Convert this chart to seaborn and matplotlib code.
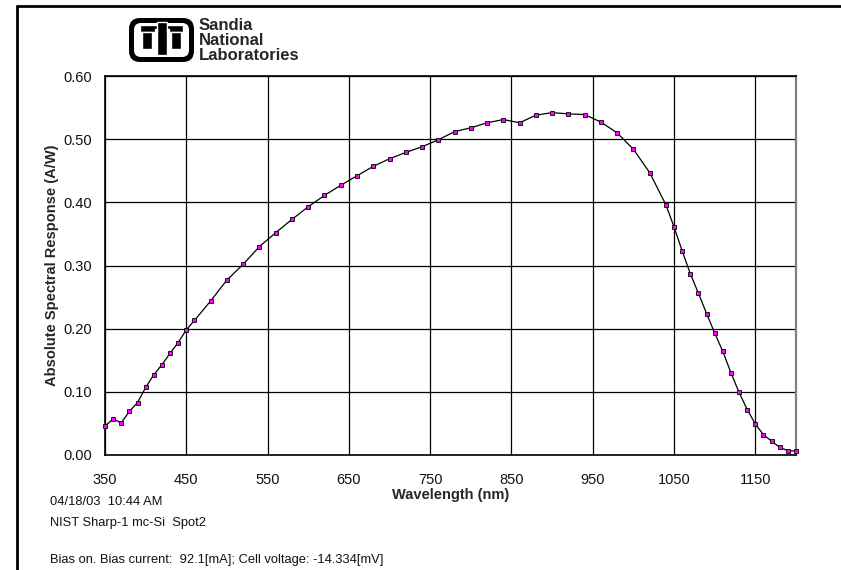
import pandas as pd
import matplotlib.pyplot as plt
import seaborn as sns
from matplotlib.patches import FancyBboxPatch, Rectangle
from matplotlib.lines import Line2D

# Spectral response data
wavelength = [350, 360, 370, 380, 390, 400, 410, 420, 430, 440, 450, 460,
              480, 500, 520, 540, 560, 580, 600, 620, 640, 660, 680, 700,
              720, 740, 760, 780, 800, 820, 840, 860, 880, 900, 920, 940,
              960, 980, 1000, 1020, 1040, 1050, 1060, 1070, 1080, 1090,
              1100, 1110, 1120, 1130, 1140, 1150, 1160, 1170, 1180, 1190, 1200]
response = [0.046, 0.057, 0.051, 0.069, 0.083, 0.107, 0.127, 0.143, 0.161, 0.178, 0.198, 0.213,
            0.244, 0.277, 0.302, 0.330, 0.352, 0.373, 0.393, 0.411, 0.427, 0.442, 0.457, 0.469,
            0.479, 0.488, 0.499, 0.512, 0.518, 0.526, 0.531, 0.526, 0.538, 0.542, 0.540, 0.539,
            0.527, 0.510, 0.484, 0.447, 0.396, 0.361, 0.323, 0.287, 0.256, 0.224,
            0.193, 0.164, 0.130, 0.099, 0.072, 0.049, 0.032, 0.022, 0.012, 0.007, 0.006]
x_ticks = [350, 450, 550, 650, 750, 850, 950, 1050, 1150]
y_ticks = [0.0, 0.1, 0.2, 0.3, 0.4, 0.5, 0.6]
notes = ['04/18/03  10:44 AM', 'NIST Sharp-1 mc-Si  Spot2',
         'Bias on. Bias current:  92.1[mA]; Cell voltage: -14.334[mV]']

df = pd.DataFrame({'wavelength': wavelength, 'response': response})

sns.set_style('white')
plt.rcParams['font.family'] = ['Liberation Sans', 'DejaVu Sans']

W, H = 841, 570
fig = plt.figure(figsize=(W / 100, H / 100), dpi=100)
# plot area in pixel terms: left 105, right 796, top 76, bottom 455
ax = fig.add_axes([105 / W, 1 - 455 / H, 691 / W, 379 / H])

sns.lineplot(data=df, x='wavelength', y='response', ax=ax, color='black', lw=0.9,
             marker='s', markersize=3.2, markerfacecolor='#ff00ff',
             markeredgecolor='black', markeredgewidth=0.6, clip_on=False, zorder=5)

ax.set_xlim(350, 1200)
ax.set_ylim(0, 0.6)
ax.set_xticks(x_ticks)
ax.set_yticks(y_ticks)
ax.set_yticklabels([f'{v:.2f}' for v in y_ticks])
ax.grid(True, color='black', lw=0.9)
ax.tick_params(axis='x', length=0, pad=13, labelsize=10.5, labelcolor='#111111')
ax.tick_params(axis='y', length=0, pad=9, labelsize=10.5, labelcolor='#111111')
for side in ['left', 'bottom', 'top']:
    ax.spines[side].set_color('black')
    ax.spines[side].set_linewidth(1.2)
ax.spines['right'].set_color('#808080')
ax.spines['right'].set_linewidth(1.6)

ax.set_xlabel('Wavelength (nm)', fontsize=10.5, fontweight='bold')
ax.set_ylabel('Absolute Spectral Response (A/W)', fontsize=10.5, fontweight='bold')
ax.xaxis.set_label_coords(0.5, -0.088)
ax.yaxis.set_label_coords(-0.066, 0.5)

# notes under the chart
for txt, ypx in zip(notes, [502, 523, 560]):
    fig.text(50 / W, 1 - ypx / H, txt, fontsize=9.3, va='center', ha='left', color='#111111')

# page frame (left and top edges)
fig.add_artist(Line2D([17 / W, 17 / W], [0, 1 - 6 / H], color='black', lw=2))
fig.add_artist(Line2D([17 / W, 1], [1 - 6 / H, 1 - 6 / H], color='black', lw=2))

# Sandia logo
lax = fig.add_axes([128 / W, 1 - 63 / H, 67 / W, 46 / H])
lax.set_xlim(0, 67)
lax.set_ylim(46, 0)
lax.axis('off')
lax.add_patch(FancyBboxPatch((1, 1), 65, 44, boxstyle='round,pad=0,rounding_size=11',
                             fc='black', ec='none'))
lax.add_patch(FancyBboxPatch((6, 6), 55, 34, boxstyle='round,pad=0,rounding_size=7',
                             fc='white', ec='none'))
lax.add_patch(Rectangle((12, 8), 43, 7, fc='black'))
lax.add_patch(Rectangle((14, 15), 10, 17, fc='black'))
lax.add_patch(Rectangle((43, 15), 10, 17, fc='black'))
lax.add_patch(Rectangle((29, 5), 10, 33, fc='black'))
lax.add_patch(Rectangle((27, 12), 2, 3, fc='white'))
lax.add_patch(Rectangle((39, 12), 2, 3, fc='white'))

for txt, ypx in zip(['Sandia', 'National', 'Laboratories'], [26, 40.5, 55]):
    fig.text(199 / W, 1 - ypx / H, txt, fontsize=12, fontweight='bold', va='center',
             ha='left', family=['Liberation Sans Narrow', 'Liberation Sans'],
             fontstretch='condensed')

fig.savefig('out.png', dpi=100)
